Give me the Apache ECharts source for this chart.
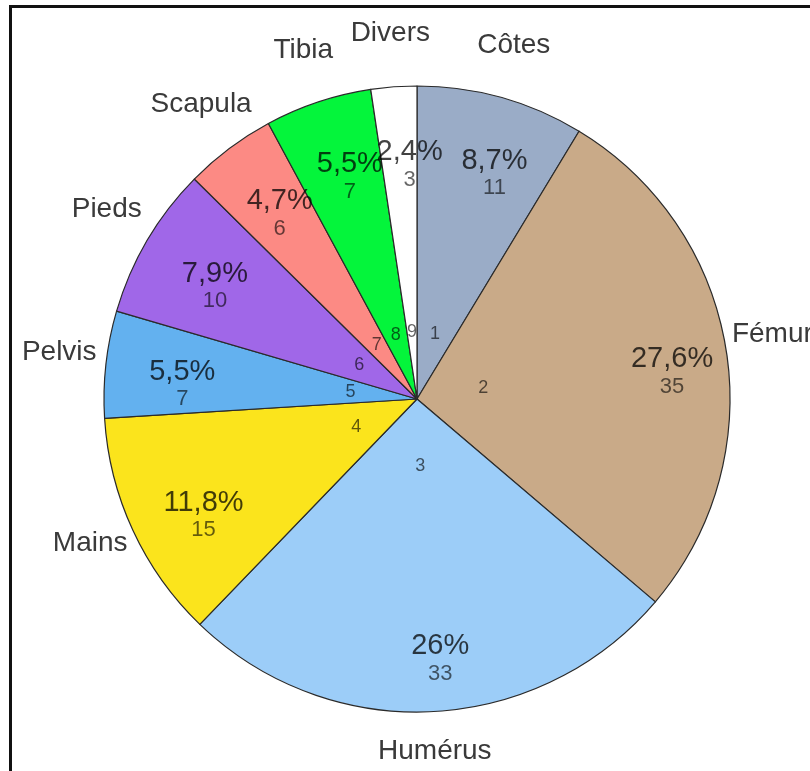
<!DOCTYPE html>
<html>
<head>
<meta charset="utf-8">
<script src="https://cdn.jsdelivr.net/npm/echarts@6/dist/echarts.min.js"></script>
<style>
html,body{margin:0;padding:0;background:#fff;}
#chart{width:810px;height:771px;}
</style>
</head>
<body>
<div id="chart"></div>
<script>
const categories = ['Côtes', 'Fémur', 'Humérus', 'Mains', 'Pelvis', 'Pieds', 'Scapula', 'Tibia', 'Divers'];
const values = [11, 35, 33, 15, 7, 10, 6, 7, 3];
const colors = ['#9aacc7', '#c9aa88', '#9ccdf8', '#fbe41c', '#63b1ef', '#a067e8', '#fc8a84', '#04f53b', '#ffffff'];

const total = values.reduce((a, b) => a + b, 0);
function pct(v) {
  let s = (v / total * 100).toFixed(1);
  if (s.endsWith('.0')) s = s.slice(0, -2);
  return s.replace('.', ',') + '%';
}
const FONT = '"Liberation Sans", Arial, sans-serif';
const center = [417, 399];
const R = 313;

const mainData = categories.map((c, i) => ({ name: c, value: values[i], itemStyle: { color: colors[i] } }));
const plainData = categories.map((c, i) => ({ name: c, value: values[i] }));

// mid-angle (in value units) of every slice, for the percentage labels placed in polar coordinates
let cum = 0;
const midValues = values.map(v => { const m = cum + v / 2; cum += v; return m; });
const pctLabelData = values.map((v, i) => ({ value: [0.79, midValues[i]], raw: v }));

const overlayBase = {
  type: 'pie',
  center: center,
  startAngle: 90,
  clockwise: true,
  silent: true,
  animation: false,
  itemStyle: { color: 'transparent', borderWidth: 0 },
  labelLine: { show: false },
  emphasis: { disabled: true },
  avoidLabelOverlap: false
};

const chart = echarts.init(document.getElementById('chart'), null, { renderer: 'canvas' });
chart.setOption({
  backgroundColor: '#ffffff',
  animation: false,
  polar: { center: center, radius: R },
  angleAxis: { type: 'value', min: 0, max: total, startAngle: 90, clockwise: true, show: false },
  radiusAxis: { type: 'value', min: 0, max: 1, show: false },
  graphic: [{
    type: 'rect',
    shape: { x: 10.5, y: 6.5, width: 1000, height: 1000 },
    style: { fill: 'none', stroke: '#111', lineWidth: 3 },
    z: 100
  }],
  series: [
    {
      type: 'pie',
      center: center,
      radius: [0, R],
      startAngle: 90,
      clockwise: true,
      silent: true,
      animation: false,
      data: mainData,
      label: { show: false },
      labelLine: { show: false },
      itemStyle: { borderColor: '#2a2a2a', borderWidth: 1.2 },
      emphasis: { disabled: true }
    },
    Object.assign({}, overlayBase, {
      radius: [0, 128],
      data: plainData,
      label: {
        show: true, position: 'inside',
        formatter: p => String(p.dataIndex + 1),
        fontFamily: FONT, fontSize: 18, color: 'rgba(0,0,0,0.62)'
      }
    }),
    {
      type: 'scatter',
      coordinateSystem: 'polar',
      silent: true,
      animation: false,
      symbolSize: 0,
      z: 5,
      itemStyle: { opacity: 1, color: 'transparent' },
      data: pctLabelData,
      label: {
        show: true, position: 'inside',
        offset: [11, 12],
        formatter: p => '{p|' + pct(p.data.raw) + '}\n{v|' + p.data.raw + '}',
        rich: {
          p: { fontFamily: FONT, fontSize: 29, color: 'rgba(0,0,0,0.74)', lineHeight: 31, align: 'center' },
          v: { fontFamily: FONT, fontSize: 22, color: 'rgba(0,0,0,0.6)', lineHeight: 24, align: 'center' }
        }
      },
      emphasis: { disabled: true }
    },
    Object.assign({}, overlayBase, {
      radius: [318, 396],
      data: plainData,
      label: {
        show: true, position: 'inside',
        offset: [0, -7],
        formatter: p => p.name,
        fontFamily: FONT, fontSize: 28, color: '#3a3a3a'
      }
    })
  ]
});
</script>
</body>
</html>
